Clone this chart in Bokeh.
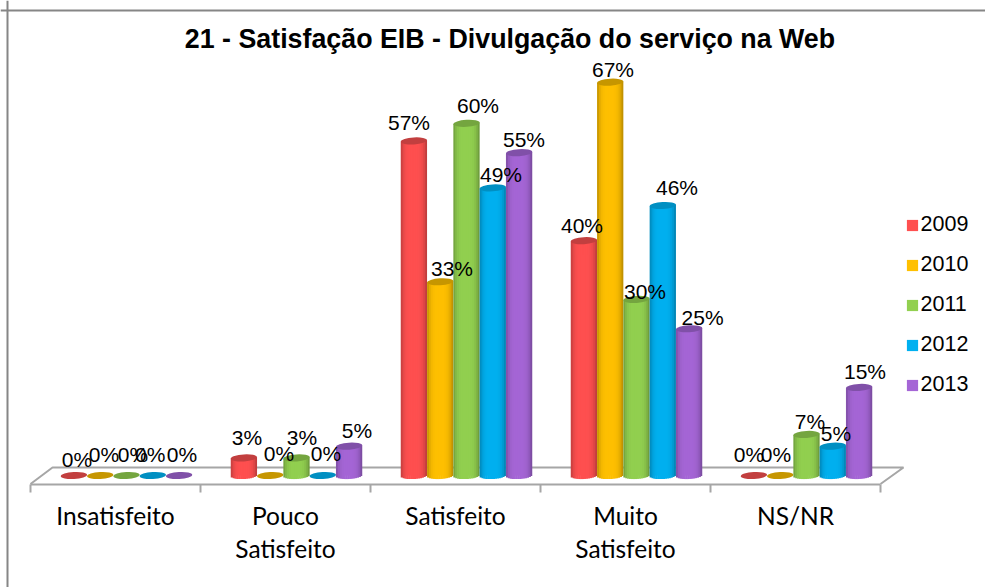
from bokeh.plotting import figure
from bokeh.models import Range1d, Span, Label, FixedTicker, Legend, LegendItem, LinearAxis, ColumnDataSource
from bokeh.core.properties import value
from bokeh.embed import file_html
from bokeh.resources import INLINE
import math

# ---------- data ----------
categories = ["Insatisfeito", "Pouco\nSatisfeito", "Satisfeito", "Muito\nSatisfeito", "NS/NR"]
years = ["2009", "2010", "2011", "2012", "2013"]
v2009 = [0, 3, 57, 40, 0]
v2010 = [0, 0, 33, 67, 0]
v2011 = [0, 3, 60, 30, 7]
v2012 = [0, 0, 49, 46, 5]
v2013 = [0, 5, 55, 25, 15]
series = [v2009, v2010, v2011, v2012, v2013]
title_text = "21 - Satisfação EIB - Divulgação do serviço na Web"

# ---------- styles / layout ----------
body_colors = ["#FF5050", "#FFC000", "#92D050", "#00B0F0", "#A566D6"]
top_colors = ["#C23F3F", "#C69600", "#74A53F", "#008FC2", "#8050A8"]
GRAY = "#A6A6A6"
BORDER = "#868686"
SANS = "Liberation Sans"
W, H = 985, 587
CAT_PX, PCT_PX = 170.0, 5.87     # scale: px per category, px per percent
X0_PX, Y0_PX = 30.0, 475.0       # page px of category 0 edge / value 0
BAR_PX = 26.3
DEPTH_DX = 11.0                  # bars sit shifted towards the back of the floor
ELL_H = 7.0
TILT = 0.06
STRIPS = 14

def X(px): return (px - X0_PX) / CAT_PX
def Y(py): return (Y0_PX - py) / PCT_PX

# label offsets (screen px) relative to each bar's top centre
label_dx = [[3.1, 3.8, 6.5, -2.5, 2.9], [3.1, 8.8, 5.5, 3.2, 7.9], [-4.9, 11.8, 11.5, 8.2, 4.9],
            [-1.9, 2.8, 8.5, 14.2, 13.5], [-4.9, -4.2, 3.5, 3.2, 5.9]]
label_dy = [[-16, -21, -21, -21, -21], [-20.4, -22, -20.4, -22, -15.6], [-18.4, -13.3, -17.8, -13.4, -13],
            [-15.2, -12.7, -7.9, -18, -11], [-21, -21, -12.9, -12.6, -16]]

p = figure(width=W, height=H, output_backend="svg", toolbar_location=None,
           x_range=Range1d(X(0), X(W)), y_range=Range1d(Y(H), Y(0)),
           min_border=0, min_border_left=0, min_border_right=0, min_border_top=0, min_border_bottom=0,
           outline_line_color=None, background_fill_color="white", border_fill_color="white")
p.grid.visible = False
p.xaxis.visible = False
p.yaxis.visible = False

# chart border (top and left only are visible in the reference)
p.add_layout(Span(location=X(7), dimension="height", line_color=BORDER, line_width=2))
p.add_layout(Span(location=Y(10), dimension="width", line_color=BORDER, line_width=2))

# floor
floor_front, floor_back = 483.5, 467.0
p.line([X(30), X(52), X(903), X(880)], [Y(floor_front), Y(floor_back), Y(floor_back), Y(floor_front)],
       line_color=GRAY, line_width=2)
axis = LinearAxis(ticker=FixedTicker(ticks=list(range(len(categories) + 1))), bounds=(0, len(categories)),
                  fixed_location=Y(floor_front), axis_line_color=GRAY, axis_line_width=2,
                  major_tick_line_color=GRAY, major_tick_line_width=2, major_tick_out=8, major_tick_in=0,
                  minor_tick_line_color=None, major_label_text_font_size="0px", major_label_text_color=None)
p.add_layout(axis, "below")


def shade(hex_color, f):
    r, g, b = [int(hex_color[i:i + 2], 16) for i in (1, 3, 5)]
    return "#%02x%02x%02x" % (int(r * f), int(g * f), int(b * f))

n_series = len(series)
legend_items = []
w = BAR_PX / CAT_PX
for s, vals in enumerate(series):
    centers = [c + 0.5 + DEPTH_DX / CAT_PX + (s - (n_series - 1) / 2) * w for c in range(len(vals))]
    base = p.vbar(x=centers, top=vals, bottom=0, width=w * 0.9,
                  fill_color=body_colors[s], line_color=None)
    legend_items.append(LegendItem(label=years[s], renderers=[base]))
    L, R, T, B, C = [], [], [], [], []
    for cx, v in zip(centers, vals):
        if v == 0:
            continue
        for i in range(STRIPS):
            u0 = -1 + 2 * i / STRIPS
            u1 = -1 + 2 * (i + 1) / STRIPS
            u = (u0 + u1) / 2
            f = 1 - 0.26 * abs(u) ** 4 - (0.05 * max(u, 0) ** 2)
            L.append(cx + u0 * w / 2)
            R.append(cx + min(u1 + 0.04, 1) * w / 2)
            tilt = TILT * BAR_PX / 2 * u / PCT_PX
            T.append(v + tilt)
            B.append(tilt - (ELL_H / 2) * math.sqrt(max(1 - u * u, 0)) / PCT_PX)
            C.append(shade(body_colors[s], f))
    p.quad(left=L, right=R, top=T, bottom=B, fill_color=C, line_color=None)
    p.ellipse(x=centers, y=vals, width=BAR_PX, height=ELL_H, angle=TILT,
              width_units="screen", height_units="screen",
              fill_color=top_colors[s], line_color=None)

# data labels, drawn above all bars
for s, vals in enumerate(series):
    centers = [c + 0.5 + DEPTH_DX / CAT_PX + (s - (n_series - 1) / 2) * w for c in range(len(vals))]
    src = ColumnDataSource(dict(x=centers, y=vals, t=["%d%%" % v for v in vals],
                                dx=[label_dx[c][s] for c in range(len(vals))],
                                dy=[label_dy[c][s] for c in range(len(vals))]))
    p.text(x="x", y="y", text="t", x_offset="dx", y_offset="dy", source=src,
           text_font=value(SANS), text_font_size="21px", text_color="#000000",
           text_align="center", text_baseline="middle")

# category labels
p.text(x=[c + 0.5 for c in range(len(categories))], y=[Y(500)] * len(categories), text=categories,
       text_font=value("Lato"), text_font_size="24.5px", text_color="#000000",
       text_align="center", text_baseline="top", text_line_height=1.15)

# title
p.add_layout(Label(x=X(509.5), y=Y(38), text=title_text, text_font=SANS, text_font_style="bold",
                   text_font_size="26.8px", text_color="#000000", text_align="center", text_baseline="middle"))

# legend
legend = Legend(items=legend_items, location=(904.6, 190), orientation="vertical",
                glyph_width=14, glyph_height=14, label_standoff=2, spacing=15,
                label_text_font=SANS, label_text_font_size="21.5px", label_text_color="#000000",
                label_height=20, padding=0, margin=0, border_line_color=None, background_fill_alpha=0)
p.add_layout(legend, "center")

open("out.html", "w").write(file_html(p, INLINE))
